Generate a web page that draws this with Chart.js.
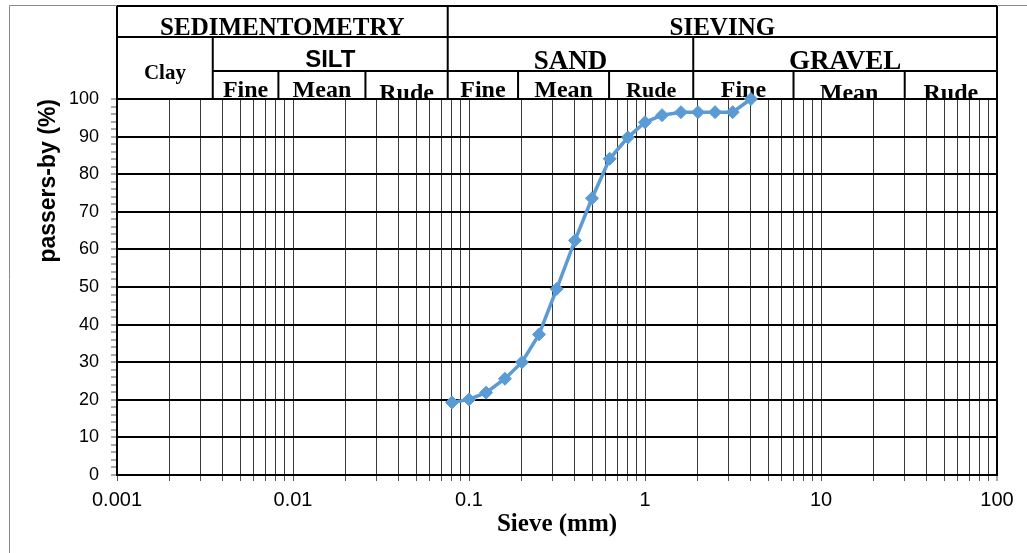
<!DOCTYPE html>
<html>
<head>
<meta charset="utf-8">
<script src="https://cdn.jsdelivr.net/npm/chart.js@4.4.1/dist/chart.umd.min.js"></script>
<style>
  html, body { margin: 0; padding: 0; background: #fff; }
  #wrap { width: 1027px; height: 553px; }
</style>
</head>
<body>
<div id="wrap"><canvas id="gradChart" width="1027" height="553"></canvas></div>
<script>
// Grain size curve - sieve sizes (mm) and passing (%)
const sieveSizes = [0.08, 0.1, 0.125, 0.16, 0.2, 0.25, 0.315, 0.4, 0.5, 0.63, 0.8, 1, 1.25, 1.6, 2, 2.5, 3.15, 4];
const passing = [19.3, 20.1, 21.9, 25.6, 30, 37.4, 49.5, 62.4, 73.6, 84.1, 89.8, 93.8, 95.7, 96.5, 96.5, 96.5, 96.5, 100];

// x axis decades and minor multipliers
const xDecades = [0.001, 0.01, 0.1, 1, 10, 100];
const xTickLabels = ['0.001', '0.01', '0.1', '1', '10', '100'];
const xMultipliers = [1, 2, 3, 4, 5, 6, 7, 8, 9];

// header table (limits in mm)
const groupLabels = ['SEDIMENTOMETRY', 'SIEVING'];
const groupLimits = [0.001, 0.0757, 100];
const classLabels = ['Clay', 'SILT', 'SAND', 'GRAVEL'];
const classLimits = [0.001, 0.0035, 0.0757, 1.88, 100];
const subLabels = ['Fine', 'Mean', 'Rude', 'Fine', 'Mean', 'Rude', 'Fine', 'Mean', 'Rude'];
const subLimits = [0.0035, 0.00826, 0.0258, 0.0757, 0.19, 0.625, 1.88, 6.98, 29.9, 100];

const SERIF = '"Liberation Serif", "Times New Roman", serif';
const SANS = '"Liberation Sans", Arial, sans-serif';

function isDecade(v) {
    const l = Math.log10(v);
    return Math.abs(l - Math.round(l)) < 1e-6;
}

// Build the full list of log ticks (1..9 per decade)
const xTickValues = [];
xDecades.forEach((d, i) => {
    if (i === xDecades.length - 1) { xTickValues.push(d); return; }
    xMultipliers.forEach(m => xTickValues.push(+(m * d).toPrecision(6)));
});

// Frame around the whole figure
const framePlugin = {
    id: 'frame',
    beforeDraw(chart) {
        const ctx = chart.ctx;
        ctx.save();
        ctx.strokeStyle = '#8a8a8a';
        ctx.lineWidth = 1;
        ctx.beginPath();
        ctx.moveTo(9.5, 553);
        ctx.lineTo(9.5, 5.5);
        ctx.lineTo(1027, 5.5);
        ctx.stroke();
        ctx.restore();
    }
};

// Classification table above the plot
const headerPlugin = {
    id: 'header',
    beforeDatasetsDraw(chart) {
        const ctx = chart.ctx;
        const xs = chart.scales.x;
        const top = chart.chartArea.top;
        const px = v => xs.getPixelForValue(v);
        const y0 = 6, y1 = 37, y2 = 71, y3 = top;

        ctx.save();
        ctx.strokeStyle = '#000';
        ctx.lineWidth = 2;
        ctx.beginPath();
        // horizontal lines
        ctx.moveTo(px(groupLimits[0]), y0); ctx.lineTo(px(100), y0);
        ctx.moveTo(px(groupLimits[0]), y1); ctx.lineTo(px(100), y1);
        ctx.moveTo(px(classLimits[1]), y2); ctx.lineTo(px(100), y2);
        // vertical lines
        groupLimits.forEach(v => { ctx.moveTo(px(v), y0); ctx.lineTo(px(v), y3); });
        classLimits.forEach(v => { ctx.moveTo(px(v), y1); ctx.lineTo(px(v), y3); });
        subLimits.forEach(v => { ctx.moveTo(px(v), y2); ctx.lineTo(px(v), y3); });
        ctx.stroke();

        ctx.fillStyle = '#000';
        ctx.textAlign = 'center';
        ctx.textBaseline = 'alphabetic';

        // row 1
        ctx.font = 'bold 25px ' + SERIF;
        groupLabels.forEach((t, i) => {
            ctx.fillText(t, (px(groupLimits[i]) + px(groupLimits[i + 1])) / 2, 35);
        });

        // row 2
        classLabels.forEach((t, i) => {
            const cx = (px(classLimits[i]) + px(classLimits[i + 1])) / 2;
            if (i === 0) {
                ctx.font = 'bold 21px ' + SERIF;
                ctx.fillText(t, cx, 79);
            } else if (t === 'SILT') {
                ctx.font = 'bold 24px ' + SANS;
                ctx.fillText(t, cx, 67);
            } else {
                ctx.font = 'bold 27px ' + SERIF;
                ctx.fillText(t, cx, 69);
            }
        });

        // row 3, text clipped by the plot top
        ctx.beginPath();
        ctx.rect(0, y2, 1027, y3 - y2);
        ctx.clip();
        const drop = [0, 0, 3, 0, 0, 0, 0, 3, 3];
        subLabels.forEach((t, i) => {
            const cx = (px(subLimits[i]) + px(subLimits[i + 1])) / 2;
            ctx.font = (i === 5 ? 'bold 22px ' : 'bold 24px ') + SERIF;
            ctx.fillText(t, cx, 97 + drop[i]);
        });
        ctx.restore();
    }
};

const ctx = document.getElementById('gradChart').getContext('2d');
const gradChart = new Chart(ctx, {
    type: 'line',
    data: {
        datasets: [{
            label: 'passers-by',
            data: sieveSizes.map((s, i) => ({ x: s, y: passing[i] })),
            borderColor: '#5b9bd5',
            backgroundColor: '#5b9bd5',
            borderWidth: 3.5,
            pointStyle: 'rectRot',
            pointRadius: 6.5,
            pointBorderWidth: 1,
            fill: false,
            tension: 0,
            clip: false
        }]
    },
    options: {
        responsive: false,
        animation: false,
        events: [],
        layout: { padding: { top: 99, right: 30, left: 28, bottom: 0 } },
        plugins: {
            legend: { display: false },
            tooltip: { enabled: false }
        },
        scales: {
            x: {
                type: 'logarithmic',
                min: 0.001,
                max: 100,
                afterBuildTicks(scale) {
                    scale.ticks = xTickValues.map(v => ({ value: v, major: isDecade(v) }));
                },
                afterFit(scale) { scale.height = 78; },
                ticks: {
                    autoSkip: false,
                    maxRotation: 0,
                    padding: 7,
                    color: '#000',
                    font: { family: SANS, size: 20 },
                    callback(v) {
                        const i = xDecades.findIndex(d => Math.abs(Math.log10(d) - Math.log10(v)) < 1e-6);
                        return i >= 0 ? xTickLabels[i] : '';
                    }
                },
                grid: {
                    drawOnChartArea: true,
                    tickLength: 6,
                    color: c => (c.tick && c.tick.value === 100 ? '#000' : '#3a3a3a'),
                    lineWidth: c => (c.tick && c.tick.value === 100 ? 2 : 1),
                    tickColor: '#555',
                    tickWidth: 1
                },
                border: { display: true, color: '#000', width: 2 },
                title: {
                    display: true,
                    text: 'Sieve (mm)',
                    color: '#000',
                    font: { family: SERIF, size: 25, weight: 'bold' },
                    padding: { top: 0, bottom: 13 }
                }
            },
            y: {
                min: 0,
                max: 100,
                afterFit(scale) { scale.width = 89; },
                ticks: {
                    stepSize: 2,
                    autoSkip: false,
                    padding: 12,
                    color: '#000',
                    font: { family: SANS, size: 18 },
                    callback: v => (v % 10 === 0 ? String(v) : '')
                },
                grid: {
                    tickLength: 6,
                    color: c => (c.tick && c.tick.value % 10 === 0 ? '#000' : 'rgba(0,0,0,0)'),
                    lineWidth: 2,
                    tickColor: '#555',
                    tickWidth: 1
                },
                border: { display: true, color: '#000', width: 2 },
                title: {
                    display: true,
                    text: 'passers-by (%)',
                    align: 'end',
                    color: '#000',
                    font: { family: SANS, size: 23, weight: 'bold' },
                    padding: { top: 7, bottom: 0 }
                }
            }
        }
    },
    plugins: [framePlugin, headerPlugin]
});
</script>
</body>
</html>
